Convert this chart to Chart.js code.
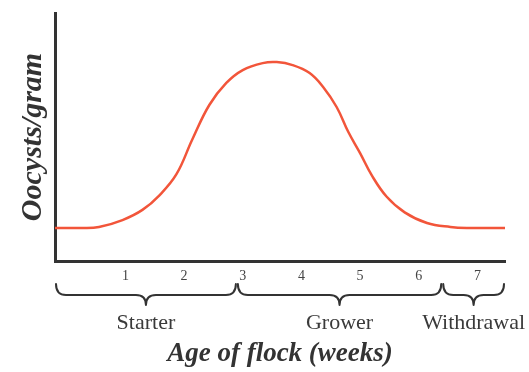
<!DOCTYPE html>
<html lang="en">
<head>
  <meta charset="UTF-8" />
  <title>Oocysts per gram by age of flock</title>
  <script src="https://cdn.jsdelivr.net/npm/chart.js"></script>
  <style>
    body {
        margin: 0;
        background: #fff;
    }
    .wrap {
        width: 529px;
        height: 372px;
        position: relative;
    }
  </style>
</head>
<body>
  <div class="wrap"><canvas id="flockChart"></canvas></div>

  <script>
    // shedding curve, age in weeks
    const weeks = [-0.2, 0.26, 0.55, 0.95, 1.29, 1.58, 1.87, 2.14, 2.43, 2.72, 3.0, 3.34, 3.58, 3.85, 4.14, 4.37, 4.6, 4.8, 5.0, 5.2, 5.45, 5.76, 6.14, 6.54, 6.83, 7.47];
    const oocysts = [13.3, 13.3, 13.7, 16.5, 20.6, 26.5, 35.0, 49.0, 62.9, 71.8, 77.0, 79.8, 80.2, 79.0, 75.8, 70.2, 62.1, 52.0, 43.5, 34.5, 26.0, 19.6, 15.3, 13.7, 13.3, 13.3];

    const weekTicks = [1, 2, 3, 4, 5, 6, 7];

    // feed phases and where they start / stop (weeks)
    const phaseNames = ['Starter', 'Grower', 'Withdrawal'];
    const phaseBounds = [-0.2, 2.9, 6.4, 7.47];

    const serif = "'Liberation Serif', 'DejaVu Serif', serif";
    const ink = '#333';

    // curly braces + phase names under the week numbers
    const phaseBraces = {
      id: 'phaseBraces',
      afterDraw(chart) {
        const ctx = chart.ctx;
        const x = chart.scales.x;
        const base = chart.chartArea.bottom;
        const yEnd = base + 23, yLine = base + 34, yTip = base + 44;
        const r = 10;

        ctx.save();
        ctx.strokeStyle = ink;
        ctx.lineWidth = 2;
        ctx.lineCap = 'round';
        ctx.lineJoin = 'round';
        ctx.fillStyle = '#3a3a3a';
        ctx.font = '22px ' + serif;
        ctx.textAlign = 'center';
        ctx.textBaseline = 'middle';

        phaseNames.forEach((name, i) => {
          const x0 = x.getPixelForValue(phaseBounds[i]) + 1;
          const x1 = x.getPixelForValue(phaseBounds[i + 1]) - 1;
          const xm = (x0 + x1) / 2;

          ctx.beginPath();
          ctx.moveTo(x0, yEnd);
          ctx.quadraticCurveTo(x0, yLine, x0 + r, yLine);
          ctx.lineTo(xm - r, yLine);
          ctx.quadraticCurveTo(xm, yLine, xm, yTip);
          ctx.quadraticCurveTo(xm, yLine, xm + r, yLine);
          ctx.lineTo(x1 - r, yLine);
          ctx.quadraticCurveTo(x1, yLine, x1, yEnd);
          ctx.stroke();

          ctx.fillText(name, xm, base + 62);
        });
        ctx.restore();
      }
    };

    new Chart(document.getElementById('flockChart'), {
      type: 'line',
      data: {
        datasets: [{
          data: weeks.map((w, i) => ({ x: w, y: oocysts[i] })),
          borderColor: '#f2553a',
          borderWidth: 2.5,
          pointRadius: 0,
          fill: false,
          tension: 0.4
        }]
      },
      options: {
        responsive: true,
        maintainAspectRatio: false,
        animation: false,
        layout: { padding: { top: 13, right: 24, left: 0, bottom: 0 } },
        plugins: {
          legend: { display: false },
          tooltip: { enabled: false }
        },
        scales: {
          x: {
            type: 'linear',
            min: phaseBounds[0],
            max: phaseBounds[phaseBounds.length - 1],
            afterBuildTicks: scale => {
              scale.ticks = weekTicks.map(v => ({ value: v }));
            },
            afterFit: scale => { scale.height = 111; },
            grid: { display: false, drawTicks: false },
            border: { display: true, color: ink, width: 3 },
            ticks: {
              padding: 7,
              color: '#444',
              font: { family: serif, size: 14 },
              maxRotation: 0,
              autoSkip: false
            },
            title: {
              display: true,
              text: 'Age of flock (weeks)',
              color: ink,
              font: { family: serif, size: 27, style: 'italic', weight: 'bold' },
              padding: { top: 0, bottom: 2 }
            }
          },
          y: {
            min: 0,
            max: 100,
            afterFit: scale => { scale.width = 55; },
            grid: { display: false, drawTicks: false },
            border: { display: true, color: ink, width: 3 },
            ticks: { display: false },
            title: {
              display: true,
              text: 'Oocysts/gram',
              color: ink,
              font: { family: serif, size: 30, style: 'italic', weight: 'bold' },
              padding: { top: 15, bottom: 0 }
            }
          }
        }
      },
      plugins: [phaseBraces]
    });
  </script>
</body>
</html>
